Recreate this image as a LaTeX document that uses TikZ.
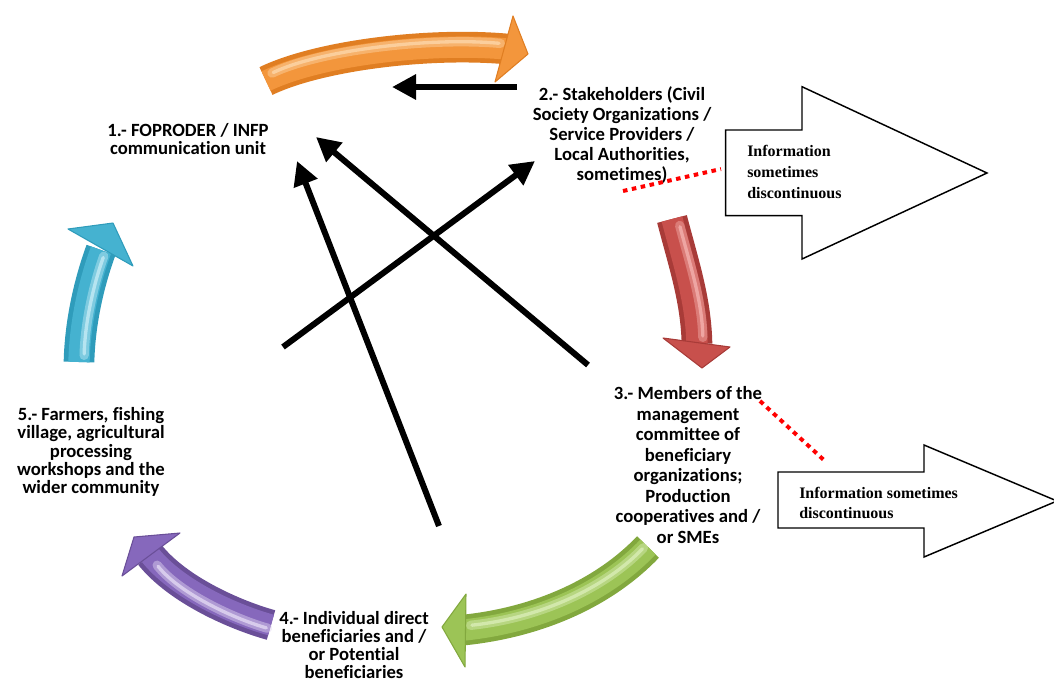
\documentclass[tikz,border=0pt]{standalone}
\usepackage{fontspec}
\setmainfont{Carlito}[Ligatures={NoCommon,NoRare}, RawFeature={-liga;-dlig;-clig}]
\newfontfamily\infofont{Liberation Serif}
\usetikzlibrary{arrows.meta}

% palette of the curved cycle arrows: dark edge, main body, highlight
\definecolor{orDark}{HTML}{E07E22}
\definecolor{orMain}{HTML}{F3963C}
\definecolor{orLight}{HTML}{FCD6A8}
\definecolor{rdDark}{HTML}{A83B38}
\definecolor{rdMain}{HTML}{C8504C}
\definecolor{rdLight}{HTML}{F3B0AD}
\definecolor{grDark}{HTML}{82A83E}
\definecolor{grMain}{HTML}{9CC456}
\definecolor{grLight}{HTML}{D9EDB6}
\definecolor{puDark}{HTML}{6A4F98}
\definecolor{puMain}{HTML}{8668BC}
\definecolor{puLight}{HTML}{E2D8F2}
\definecolor{cyDark}{HTML}{2F9CBB}
\definecolor{cyMain}{HTML}{45B2D0}
\definecolor{cyLight}{HTML}{C4EBF5}

% #1 dark, #2 main, #3 light, #4 body centre line, #5 head outline, #6 highlight offset
\newcommand{\tubearrow}[6]{%
  \draw[line width=23pt, #1] #4;
  \draw[line width=16pt, #2] #4;
  \draw[line width=7pt, #3, opacity=0.45, shift={#6},
        shorten <=5pt, shorten >=5pt, line cap=round] #4;
  \draw[line width=2.5pt, #3, opacity=0.8, shift={#6},
        shorten <=6pt, shorten >=6pt, line cap=round] #4;
  \filldraw[fill=#2, draw=#1, line width=0.8pt, line join=round] #5;
}

\begin{document}
\begin{tikzpicture}[x=0.75pt, y=-0.75pt,
  stage/.style={font=\bfseries\fontsize{14}{#1}\selectfont, align=center, inner sep=0pt},
  flow/.style={line width=4.5pt, -{Triangle[length=18pt, width=18pt]}},
  gap/.style={red, line width=3pt, dash pattern=on 3.4pt off 3.4pt},
  infoarrow/.style={draw=black, fill=white, line width=1.1pt, line join=miter},
  info/.style={font=\infofont\bfseries\fontsize{12}{15.5}\selectfont,
               align=left, anchor=west, inner sep=0pt}]
\useasboundingbox (0,0) rectangle (1054,683);

% hollow arrows carrying the "information" remarks
\draw[infoarrow] (725.7,130) -- (802,130) -- (802,86.7) -- (987,173)
  -- (802,259) -- (802,215.7) -- (725.7,215.7) -- cycle;
\draw[infoarrow] (778,472) -- (924,472) -- (924,445) -- (1057,501)
  -- (924,557) -- (924,528) -- (778,528) -- cycle;
\node[info] (i1) at (747,172) {Information\\sometimes\\discontinuous};
\node[info] (i2) at (799,503) {Information sometimes\\discontinuous};

% curved arrows of the communication cycle
\tubearrow{orDark}{orMain}{orLight}
  {(266,81) .. controls (320,55) and (430,42) .. (507,49)}
  {(513,16) -- (528,54) -- (495,82) -- cycle}{(0,-5)}
\tubearrow{rdDark}{rdMain}{rdLight}
  {(672,219) .. controls (684,265) and (696,300) .. (697,344)}
  {(663,338) -- (730,347) -- (702,368) -- cycle}{(6,0)}
\tubearrow{grDark}{grMain}{grLight}
  {(648,547) .. controls (605,592) and (540,622) .. (464,630)}
  {(466,594) -- (442,627) -- (465,667) -- cycle}{(0,-4)}
\tubearrow{puDark}{puMain}{puLight}
  {(271,625) .. controls (235,615) and (178,590) .. (150,555)}
  {(180,533) -- (134,537) -- (122,576) -- cycle}{(3,5)}
\tubearrow{cyDark}{cyMain}{cyLight}
  {(79,362) .. controls (80,320) and (90,280) .. (101,250)}
  {(68,229) -- (113,223) -- (133,266) -- cycle}{(5,0)}

% stage labels
\node[stage=13.5pt] (n1) at (188,139) {1.- FOPRODER / INFP\\communication unit};
\node[stage=15pt] (n2) at (622,135) {2.- Stakeholders (Civil\\Society Organizations /\\Service Providers /\\Local Authorities,\\sometimes)};
\node[stage=15.4pt] (n3) at (688,465) {3.- Members of the\\management\\committee of\\beneficiary\\organizations;\\Production\\cooperatives and /\\or SMEs};
\node[stage=13.7pt] (n4) at (354,645) {4.- Individual direct\\beneficiaries and /\\or Potential\\beneficiaries};
\node[stage=13.7pt] (n5) at (91,452) {5.- Farmers, fishing\\village, agricultural\\processing\\workshops and the\\wider community};

% direct information flows
\coordinate (a1s) at (517,87);  \coordinate (a1e) at (392,87);
\coordinate (a2s) at (283,347); \coordinate (a2e) at (535,161);
\coordinate (a3s) at (588,365); \coordinate (a3e) at (316,137);
\coordinate (a4s) at (439,526); \coordinate (a4e) at (297,161);
\draw[flow] (a1s) -- (a1e);
\draw[flow] (a2s) -- (a2e);
\draw[flow] (a3s) -- (a3e);
\draw[flow] (a4s) -- (a4e);

% interrupted links
\coordinate (d1a) at (623,191); \coordinate (d1b) at (721,169);
\coordinate (d2a) at (760,401); \coordinate (d2b) at (826,462);
\draw[gap] (d1a) -- (d1b);
\draw[gap] (d2a) -- (d2b);
\end{tikzpicture}
\end{document}
